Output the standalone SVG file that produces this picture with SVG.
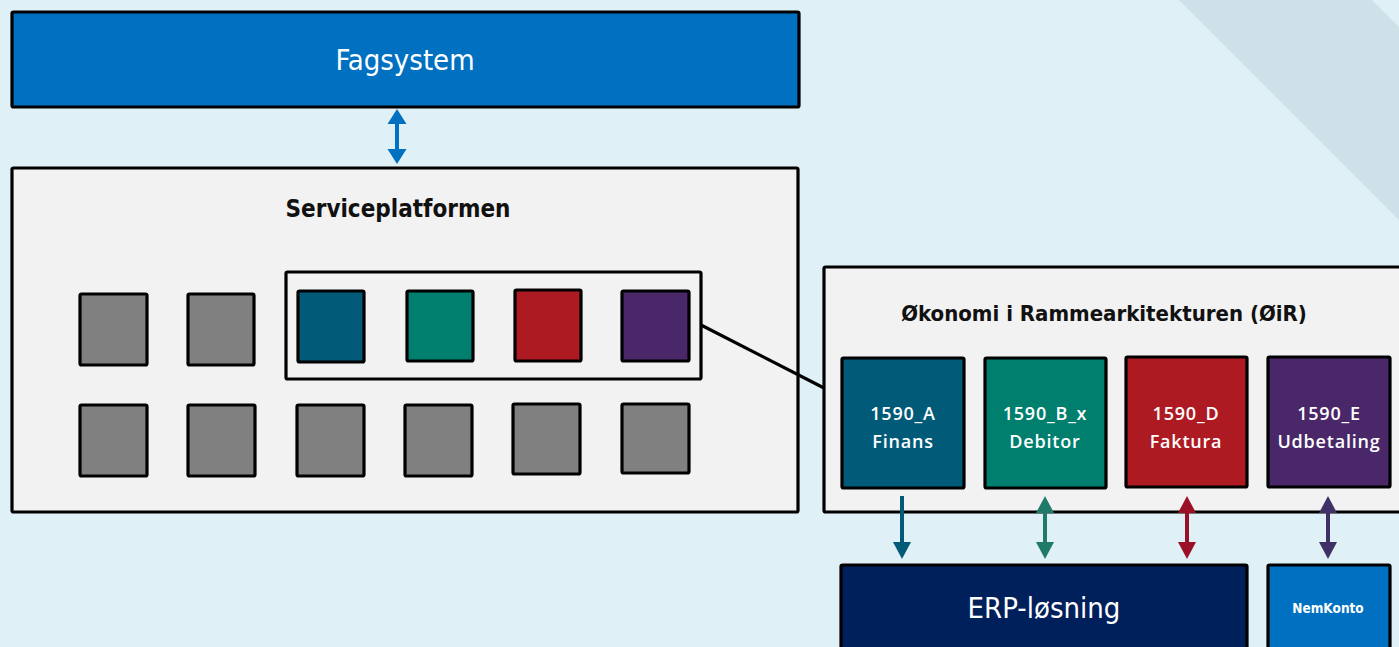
<svg xmlns="http://www.w3.org/2000/svg" width="1399" height="647" viewBox="0 0 1399 647">
<style>
.box{stroke:#000;stroke-width:3.2}
.sq{stroke:#000;stroke-width:3.2}
.lbl{font-family:'DejaVu Sans Condensed','DejaVu Sans',sans-serif;font-stretch:condensed;fill:#fff;text-anchor:middle}
.ttl{font-family:'DejaVu Sans Condensed','DejaVu Sans',sans-serif;font-stretch:condensed;font-weight:bold;fill:#111;text-anchor:middle}
.code{font-family:'Open Sans','Noto Sans',sans-serif;font-weight:600;font-size:18px;letter-spacing:0.8px;fill:#fff;text-anchor:middle}
</style>
<defs>
<marker id="hBlue" markerUnits="userSpaceOnUse" markerWidth="16" markerHeight="20" refX="0" refY="10" orient="auto-start-reverse"><path d="M0,0.5 L15,10 L0,19.5 z" fill="#0070C0"/></marker>
<marker id="hA" markerUnits="userSpaceOnUse" markerWidth="18" markerHeight="19" refX="0" refY="9.5" orient="auto-start-reverse"><path d="M0,0.5 L17,9.5 L0,18.5 z" fill="#005A78"/></marker>
<marker id="hB" markerUnits="userSpaceOnUse" markerWidth="18" markerHeight="19" refX="0" refY="9.5" orient="auto-start-reverse"><path d="M0,0.5 L17,9.5 L0,18.5 z" fill="#1F7A6A"/></marker>
<marker id="hD" markerUnits="userSpaceOnUse" markerWidth="18" markerHeight="19" refX="0" refY="9.5" orient="auto-start-reverse"><path d="M0,0.5 L17,9.5 L0,18.5 z" fill="#9B1026"/></marker>
<marker id="hE" markerUnits="userSpaceOnUse" markerWidth="18" markerHeight="19" refX="0" refY="9.5" orient="auto-start-reverse"><path d="M0,0.5 L17,9.5 L0,18.5 z" fill="#3F3068"/></marker>
</defs>
<rect x="0" y="0" width="1399" height="647" fill="#DFF1F6"/>
<polygon points="1179,0 1372,0 1399,27 1399,220" fill="#CFE1E8"/>

<g id="fagsystem">
<rect class="box" x="12" y="12" width="787" height="95" rx="1.5" fill="#0070C0"/>
<text class="lbl" x="405" y="70" font-size="29">Fagsystem</text>
</g>

<g id="serviceplatformen">
<rect class="box" x="12" y="168" width="786" height="344" rx="1.5" fill="#F2F2F2"/>
<text class="ttl" x="398" y="217" font-size="24">Serviceplatformen</text>
<g fill="#808080">
<rect class="sq" x="80" y="294" width="67" height="71" rx="1.5"/>
<rect class="sq" x="188" y="294" width="66" height="71" rx="1.5"/>
<rect class="sq" x="80" y="405" width="67" height="71" rx="1.5"/>
<rect class="sq" x="188" y="405" width="67" height="71" rx="1.5"/>
<rect class="sq" x="297" y="405" width="67" height="71" rx="1.5"/>
<rect class="sq" x="405" y="405" width="67" height="71" rx="1.5"/>
<rect class="sq" x="513" y="404" width="67" height="70" rx="1.5"/>
<rect class="sq" x="622" y="404" width="67" height="69" rx="1.5"/>
</g>
</g>

<g id="service-group">
<rect x="286" y="272" width="415" height="107" rx="1.5" fill="none" stroke="#000" stroke-width="3.2"/>
<rect class="sq" x="298" y="291" width="66" height="71" rx="1.5" fill="#005A78"/>
<rect class="sq" x="407" y="291" width="66" height="70" rx="1.5" fill="#007F6E"/>
<rect class="sq" x="515" y="290" width="66" height="71" rx="1.5" fill="#AE1A22"/>
<rect class="sq" x="622" y="291" width="67" height="70" rx="1.5" fill="#4A2768"/>
</g>

<g id="oir">
<rect class="box" x="824" y="267" width="590" height="245" rx="1.5" fill="#F2F2F2"/>
<text class="ttl" x="1104" y="321" font-size="22">Økonomi i Rammearkitekturen (ØiR)</text>
</g>

<g id="n1590A">
<rect class="box" x="842" y="358" width="122" height="130" rx="1.5" fill="#005A78"/>
<text class="code" x="903" y="420">1590_A</text>
<text class="code" x="903" y="448">Finans</text>
</g>
<g id="n1590B">
<rect class="box" x="985" y="358" width="121" height="130" rx="1.5" fill="#007F6E"/>
<text class="code" x="1045" y="420">1590_B_x</text>
<text class="code" x="1045" y="448">Debitor</text>
</g>
<g id="n1590D">
<rect class="box" x="1126" y="357" width="121" height="130" rx="1.5" fill="#AE1A22"/>
<text class="code" x="1186" y="420">1590_D</text>
<text class="code" x="1186" y="448">Faktura</text>
</g>
<g id="n1590E">
<rect class="box" x="1268" y="357" width="122" height="130" rx="1.5" fill="#4A2768"/>
<text class="code" x="1329" y="420">1590_E</text>
<text class="code" x="1329" y="448">Udbetaling</text>
</g>

<g id="erp">
<rect class="box" x="841" y="565" width="406" height="100" rx="1.5" fill="#00205B"/>
<text class="lbl" x="1044" y="618" font-size="29">ERP-løsning</text>
</g>
<g id="nemkonto">
<rect class="box" x="1268" y="565" width="122" height="100" rx="1.5" fill="#0070C0"/>
<text class="lbl" x="1328" y="613" font-size="13.5" font-weight="bold">NemKonto</text>
</g>

<g id="connectors">
<line x1="701" y1="325" x2="824" y2="388" stroke="#000" stroke-width="3.2"/>
<line x1="397" y1="124" x2="397" y2="149" stroke="#0070C0" stroke-width="4" marker-start="url(#hBlue)" marker-end="url(#hBlue)"/>
<line x1="902" y1="496" x2="902" y2="542" stroke="#005A78" stroke-width="4" marker-end="url(#hA)"/>
<line x1="1045" y1="513" x2="1045" y2="542" stroke="#1F7A6A" stroke-width="4" marker-start="url(#hB)" marker-end="url(#hB)"/>
<line x1="1187" y1="513" x2="1187" y2="542" stroke="#9B1026" stroke-width="4" marker-start="url(#hD)" marker-end="url(#hD)"/>
<line x1="1328" y1="513" x2="1328" y2="542" stroke="#3F3068" stroke-width="4" marker-start="url(#hE)" marker-end="url(#hE)"/>
</g>
</svg>
